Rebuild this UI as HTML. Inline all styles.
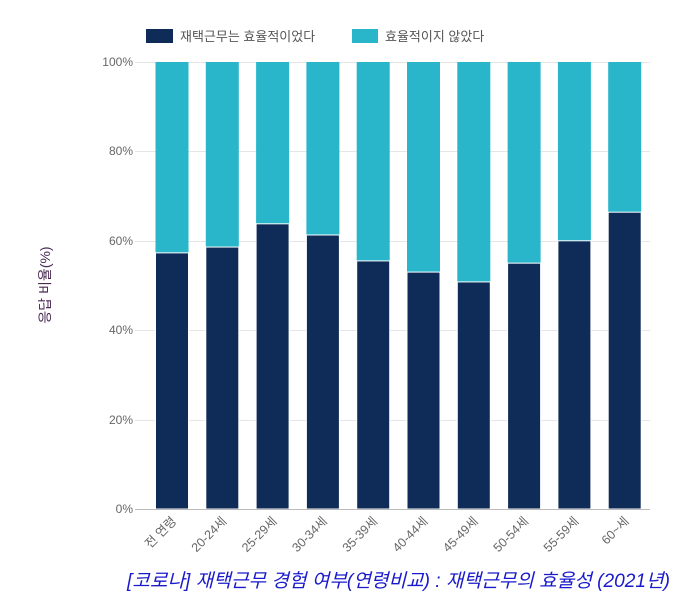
<!DOCTYPE html>
<html><head><meta charset="utf-8"><style>
body{margin:0;background:#fff;}
svg text{font-family:"Liberation Sans","Noto Sans CJK KR",sans-serif;}
</style></head><body>
<svg width="692" height="604" xmlns="http://www.w3.org/2000/svg">
<rect width="692" height="604" fill="#fff"/>
<rect x="146" y="29" width="27" height="14" fill="#0f2b57"/>
<text x="180" y="41" font-size="13" fill="#555">재택근무는 효율적이었다</text>
<rect x="352" y="29" width="26" height="14" fill="#29b6cb"/>
<text x="385" y="41" font-size="13" fill="#555">효율적이지 않았다</text>
<g stroke="#e6e6e6" stroke-width="1">
<line x1="135" x2="650" y1="62.5" y2="62.5"/><line x1="135" x2="650" y1="151.5" y2="151.5"/>
<line x1="135" x2="650" y1="241.5" y2="241.5"/><line x1="135" x2="650" y1="330.5" y2="330.5"/>
<line x1="135" x2="650" y1="420.5" y2="420.5"/>
</g>
<g font-size="12" fill="#666" text-anchor="end">
<text x="133" y="66">100%</text><text x="133" y="155">80%</text><text x="133" y="245">60%</text>
<text x="133" y="334">40%</text><text x="133" y="424">20%</text><text x="133" y="513">0%</text>
</g>
<g id="bars"></g>
<line x1="135" x2="650" y1="509.5" y2="509.5" stroke="#bbb"/>
<text transform="translate(50,285) rotate(-90)" font-size="14" fill="#4a2a55" text-anchor="middle">응답 비율(%)</text>
<g id="xl" font-size="12.5" fill="#666"></g>
<text x="670" y="587" font-size="19" font-style="italic" fill="#1a1acc" text-anchor="end" textLength="543" lengthAdjust="spacingAndGlyphs">[코로나] 재택근무 경험 여부(연령비교) : 재택근무의 효율성 (2021년)</text>
<script>
var v=[57.3,58.6,63.8,61.3,55.5,53.0,50.8,55.0,60.0,66.4];
var l=["전 연령","20-24세","25-29세","30-34세","35-39세","40-44세","45-49세","50-54세","55-59세","60~세"];
var ns="http://www.w3.org/2000/svg",g=document.getElementById("bars"),xl=document.getElementById("xl");
for(var i=0;i<10;i++){var cx=172+i*50.3,x=cx-16.5;
var t=509-v[i]*4.47;
var r=document.createElementNS(ns,"rect");r.setAttribute("x",x);r.setAttribute("y",62);r.setAttribute("width",33);r.setAttribute("height",t-62);r.setAttribute("fill","#29b6cb");g.appendChild(r);
r=document.createElementNS(ns,"rect");r.setAttribute("x",x);r.setAttribute("y",t);r.setAttribute("width",33);r.setAttribute("height",509-t);r.setAttribute("fill","#0f2b57");r.setAttribute("stroke","#fff");r.setAttribute("stroke-width","1");g.appendChild(r);
var tx=document.createElementNS(ns,"text");tx.setAttribute("text-anchor","end");tx.setAttribute("transform","translate("+(cx+5)+",522) rotate(-45)");tx.textContent=l[i];xl.appendChild(tx);}
</script>
</svg>
</body></html>
